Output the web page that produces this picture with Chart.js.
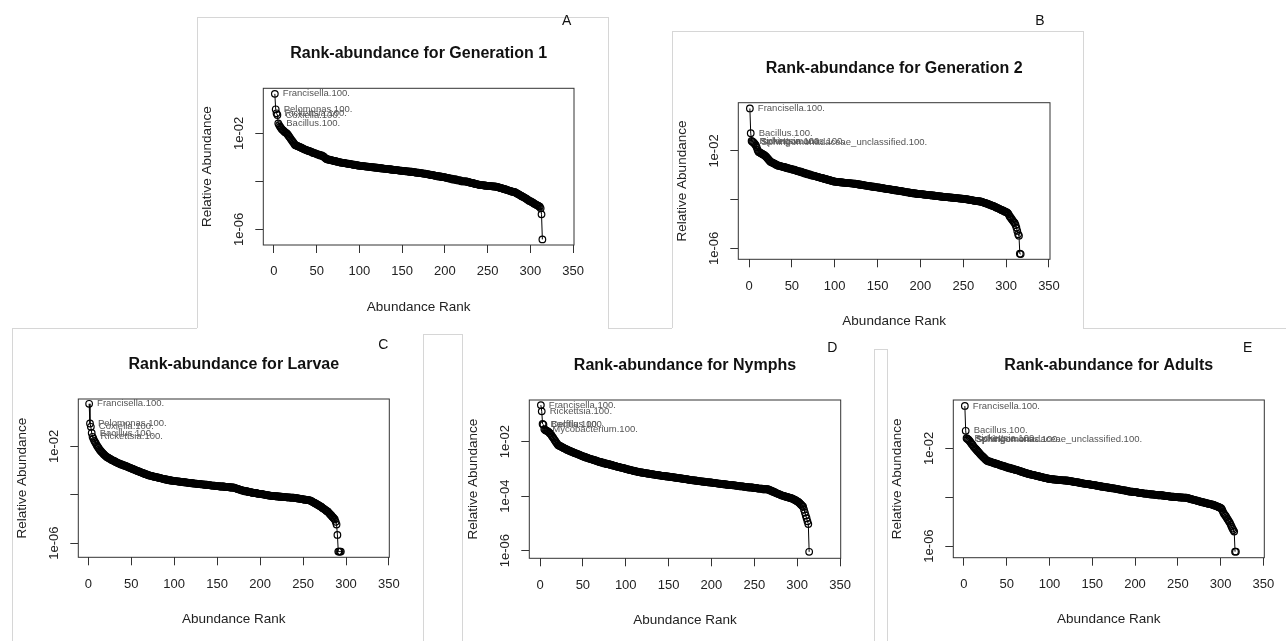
<!DOCTYPE html>
<html>
<head>
<meta charset="utf-8">
<title>Rank-abundance plots</title>
<script src="https://cdn.jsdelivr.net/npm/chart.js@4.4.1/dist/chart.umd.min.js"></script>
<style>
  html, body { margin: 0; padding: 0; background: #fff; }
  #page { position: relative; width: 1286px; height: 641px; overflow: hidden; }
  #page canvas { position: absolute; left: 0; top: 0; }
  .frame { position: absolute; background: #d6d6d6; }
</style>
</head>
<body>
<div id="page">
  <canvas id="genOne" width="1286" height="641"></canvas>
  <canvas id="genTwo" width="1286" height="641"></canvas>
  <canvas id="larvae" width="1286" height="641"></canvas>
  <canvas id="nymphs" width="1286" height="641"></canvas>
  <canvas id="adults" width="1286" height="641"></canvas>
</div>
<script>
// axis ticks shared by all five panels
const xTickValues = [0, 50, 100, 150, 200, 250, 300, 350];
const yTickValues = [1e-6, 1e-4, 1e-2];
const yTickText = ['1e-06', '1e-04', '1e-02'];

// relative abundance by rank (rank 1 first)
const gen1Abund = [
  4.4e-1, 1.0e-1, 6.8e-2, 5.8e-2, 2.6e-2, 2.2e-2, 1.9e-2, 1.7e-2, 1.5e-2, 1.4e-2,
  1.3e-2, 1.2e-2, 1.1e-2, 1.05e-2, 1.0e-2, 8.9e-3, 7.9e-3, 7.1e-3, 6.3e-3, 5.6e-3,
  5.0e-3, 4.5e-3, 4.0e-3, 3.5e-3, 3.2e-3, 3.1e-3, 3.0e-3, 2.9e-3, 2.8e-3, 2.7e-3,
  2.6e-3, 2.5e-3, 2.4e-3, 2.3e-3, 2.2e-3, 2.1e-3, 2.1e-3, 2.0e-3, 1.9e-3, 1.9e-3,
  1.8e-3, 1.8e-3, 1.7e-3, 1.7e-3, 1.6e-3, 1.5e-3, 1.5e-3, 1.5e-3, 1.4e-3, 1.4e-3,
  1.3e-3, 1.3e-3, 1.3e-3, 1.2e-3, 1.2e-3, 1.2e-3, 1.1e-3, 1.1e-3, 1.0e-3, 9.3e-4,
  8.7e-4, 8.3e-4, 8.2e-4, 8.0e-4, 7.9e-4, 7.7e-4, 7.6e-4, 7.4e-4, 7.3e-4, 7.1e-4,
  7.0e-4, 6.9e-4, 6.7e-4, 6.6e-4, 6.5e-4, 6.3e-4, 6.2e-4, 6.1e-4, 6.0e-4, 5.9e-4,
  5.9e-4, 5.8e-4, 5.7e-4, 5.6e-4, 5.5e-4, 5.5e-4, 5.4e-4, 5.3e-4, 5.2e-4, 5.2e-4,
  5.1e-4, 5.0e-4, 4.9e-4, 4.9e-4, 4.8e-4, 4.7e-4, 4.7e-4, 4.6e-4, 4.5e-4, 4.5e-4,
  4.4e-4, 4.4e-4, 4.3e-4, 4.3e-4, 4.3e-4, 4.2e-4, 4.2e-4, 4.1e-4, 4.1e-4, 4.1e-4,
  4.0e-4, 4.0e-4, 3.9e-4, 3.9e-4, 3.9e-4, 3.8e-4, 3.8e-4, 3.8e-4, 3.7e-4, 3.7e-4,
  3.7e-4, 3.6e-4, 3.6e-4, 3.5e-4, 3.5e-4, 3.5e-4, 3.4e-4, 3.4e-4, 3.4e-4, 3.3e-4,
  3.3e-4, 3.3e-4, 3.2e-4, 3.2e-4, 3.2e-4, 3.1e-4, 3.1e-4, 3.1e-4, 3.0e-4, 3.0e-4,
  3.0e-4, 2.9e-4, 2.9e-4, 2.9e-4, 2.9e-4, 2.8e-4, 2.8e-4, 2.8e-4, 2.8e-4, 2.7e-4,
  2.7e-4, 2.7e-4, 2.7e-4, 2.6e-4, 2.6e-4, 2.6e-4, 2.6e-4, 2.5e-4, 2.5e-4, 2.5e-4,
  2.5e-4, 2.4e-4, 2.4e-4, 2.4e-4, 2.4e-4, 2.3e-4, 2.3e-4, 2.3e-4, 2.3e-4, 2.2e-4,
  2.2e-4, 2.2e-4, 2.2e-4, 2.1e-4, 2.1e-4, 2.1e-4, 2.1e-4, 2.0e-4, 2.0e-4, 2.0e-4,
  1.9e-4, 1.9e-4, 1.9e-4, 1.8e-4, 1.8e-4, 1.8e-4, 1.8e-4, 1.7e-4, 1.7e-4, 1.7e-4,
  1.7e-4, 1.6e-4, 1.6e-4, 1.6e-4, 1.6e-4, 1.5e-4, 1.5e-4, 1.5e-4, 1.5e-4, 1.5e-4,
  1.4e-4, 1.4e-4, 1.4e-4, 1.4e-4, 1.3e-4, 1.3e-4, 1.3e-4, 1.3e-4, 1.2e-4, 1.2e-4,
  1.2e-4, 1.2e-4, 1.2e-4, 1.1e-4, 1.1e-4, 1.1e-4, 1.1e-4, 1.1e-4, 1.0e-4, 1.0e-4,
  1.0e-4, 1.0e-4, 1.0e-4, 9.9e-5, 9.8e-5, 9.6e-5, 9.4e-5, 9.2e-5, 9.0e-5, 8.8e-5,
  8.6e-5, 8.5e-5, 8.3e-5, 8.1e-5, 7.9e-5, 7.8e-5, 7.6e-5, 7.5e-5, 7.3e-5, 7.2e-5,
  7.1e-5, 7.0e-5, 6.9e-5, 6.9e-5, 6.8e-5, 6.7e-5, 6.7e-5, 6.6e-5, 6.5e-5, 6.5e-5,
  6.4e-5, 6.4e-5, 6.3e-5, 6.3e-5, 6.2e-5, 6.2e-5, 6.1e-5, 6.1e-5, 6.0e-5, 6.0e-5,
  5.9e-5, 5.7e-5, 5.6e-5, 5.4e-5, 5.3e-5, 5.2e-5, 5.1e-5, 4.9e-5, 4.8e-5, 4.7e-5,
  4.6e-5, 4.5e-5, 4.3e-5, 4.2e-5, 4.1e-5, 4.0e-5, 3.9e-5, 3.8e-5, 3.7e-5, 3.6e-5,
  3.6e-5, 3.5e-5, 3.3e-5, 3.2e-5, 3.0e-5, 2.9e-5, 2.8e-5, 2.6e-5, 2.5e-5, 2.4e-5,
  2.3e-5, 2.2e-5, 2.1e-5, 2.0e-5, 1.9e-5, 1.8e-5, 1.7e-5, 1.6e-5, 1.5e-5, 1.5e-5,
  1.4e-5, 1.35e-5, 1.3e-5, 1.2e-5, 1.15e-5, 1.1e-5, 1.05e-5, 1.0e-5, 9.6e-6, 9.1e-6,
  8.7e-6, 7.5e-6, 4.2e-6, 3.8e-7
];

const gen2Abund = [
  5.6e-1, 5.4e-2, 2.6e-2, 2.4e-2, 2.3e-2, 2.1e-2, 1.9e-2, 1.7e-2, 1.4e-2, 1.1e-2,
  9.3e-3, 8.9e-3, 8.5e-3, 8.1e-3, 7.7e-3, 7.4e-3, 7.0e-3, 6.7e-3, 6.3e-3, 5.8e-3,
  5.3e-3, 4.8e-3, 4.4e-3, 4.0e-3, 3.6e-3, 3.5e-3, 3.4e-3, 3.2e-3, 3.1e-3, 3.0e-3,
  2.8e-3, 2.7e-3, 2.6e-3, 2.5e-3, 2.5e-3, 2.4e-3, 2.4e-3, 2.3e-3, 2.3e-3, 2.2e-3,
  2.2e-3, 2.1e-3, 2.1e-3, 2.0e-3, 2.0e-3, 1.9e-3, 1.9e-3, 1.9e-3, 1.8e-3, 1.8e-3,
  1.7e-3, 1.7e-3, 1.7e-3, 1.6e-3, 1.6e-3, 1.5e-3, 1.5e-3, 1.5e-3, 1.4e-3, 1.4e-3,
  1.4e-3, 1.3e-3, 1.3e-3, 1.3e-3, 1.2e-3, 1.2e-3, 1.2e-3, 1.1e-3, 1.1e-3, 1.1e-3,
  1.1e-3, 1.0e-3, 1.0e-3, 1.0e-3, 9.7e-4, 9.5e-4, 9.3e-4, 9.1e-4, 8.9e-4, 8.7e-4,
  8.5e-4, 8.3e-4, 8.1e-4, 7.9e-4, 7.8e-4, 7.6e-4, 7.4e-4, 7.2e-4, 7.1e-4, 6.9e-4,
  6.8e-4, 6.6e-4, 6.5e-4, 6.3e-4, 6.2e-4, 6.0e-4, 5.9e-4, 5.8e-4, 5.6e-4, 5.5e-4,
  5.5e-4, 5.4e-4, 5.4e-4, 5.3e-4, 5.3e-4, 5.2e-4, 5.2e-4, 5.1e-4, 5.1e-4, 5.0e-4,
  5.0e-4, 4.9e-4, 4.9e-4, 4.9e-4, 4.8e-4, 4.8e-4, 4.8e-4, 4.7e-4, 4.7e-4, 4.7e-4,
  4.6e-4, 4.6e-4, 4.5e-4, 4.5e-4, 4.4e-4, 4.4e-4, 4.3e-4, 4.2e-4, 4.2e-4, 4.1e-4,
  4.1e-4, 4.0e-4, 4.0e-4, 3.9e-4, 3.9e-4, 3.8e-4, 3.8e-4, 3.7e-4, 3.7e-4, 3.6e-4,
  3.6e-4, 3.5e-4, 3.5e-4, 3.4e-4, 3.4e-4, 3.4e-4, 3.3e-4, 3.3e-4, 3.2e-4, 3.2e-4,
  3.2e-4, 3.1e-4, 3.1e-4, 3.0e-4, 3.0e-4, 3.0e-4, 2.9e-4, 2.9e-4, 2.8e-4, 2.8e-4,
  2.8e-4, 2.7e-4, 2.7e-4, 2.7e-4, 2.6e-4, 2.6e-4, 2.6e-4, 2.5e-4, 2.5e-4, 2.5e-4,
  2.4e-4, 2.4e-4, 2.4e-4, 2.3e-4, 2.3e-4, 2.3e-4, 2.3e-4, 2.2e-4, 2.2e-4, 2.2e-4,
  2.1e-4, 2.1e-4, 2.1e-4, 2.0e-4, 2.0e-4, 2.0e-4, 2.0e-4, 1.9e-4, 1.9e-4, 1.9e-4,
  1.9e-4, 1.8e-4, 1.8e-4, 1.8e-4, 1.8e-4, 1.7e-4, 1.7e-4, 1.7e-4, 1.7e-4, 1.7e-4,
  1.69e-4, 1.67e-4, 1.65e-4, 1.63e-4, 1.62e-4, 1.60e-4, 1.58e-4, 1.57e-4, 1.55e-4, 1.54e-4,
  1.53e-4, 1.52e-4, 1.50e-4, 1.49e-4, 1.48e-4, 1.46e-4, 1.45e-4, 1.43e-4, 1.42e-4, 1.40e-4,
  1.39e-4, 1.37e-4, 1.36e-4, 1.35e-4, 1.33e-4, 1.32e-4, 1.31e-4, 1.30e-4, 1.29e-4, 1.28e-4,
  1.27e-4, 1.26e-4, 1.25e-4, 1.24e-4, 1.23e-4, 1.22e-4, 1.21e-4, 1.20e-4, 1.19e-4, 1.18e-4,
  1.17e-4, 1.16e-4, 1.15e-4, 1.14e-4, 1.13e-4, 1.12e-4, 1.11e-4, 1.10e-4, 1.09e-4, 1.08e-4,
  1.08e-4, 1.07e-4, 1.05e-4, 1.04e-4, 1.02e-4, 1.01e-4, 9.9e-5, 9.8e-5, 9.6e-5, 9.5e-5,
  9.4e-5, 9.2e-5, 9.1e-5, 9.0e-5, 8.9e-5, 8.8e-5, 8.7e-5, 8.6e-5, 8.5e-5, 8.4e-5,
  8.3e-5, 8.1e-5, 7.8e-5, 7.6e-5, 7.4e-5, 7.2e-5, 7.0e-5, 6.8e-5, 6.6e-5, 6.4e-5,
  6.2e-5, 6.0e-5, 5.8e-5, 5.6e-5, 5.5e-5, 5.3e-5, 5.1e-5, 4.9e-5, 4.7e-5, 4.5e-5,
  4.4e-5, 4.2e-5, 4.0e-5, 3.9e-5, 3.7e-5, 3.6e-5, 3.5e-5, 3.3e-5, 3.2e-5, 3.1e-5,
  3.0e-5, 2.8e-5, 2.5e-5, 2.1e-5, 1.9e-5, 1.7e-5, 1.5e-5, 1.35e-5, 1.2e-5, 1.1e-5,
  9.1e-6, 7.1e-6, 5.2e-6, 3.8e-6, 3.3e-6, 6.0e-7, 5.8e-7
];

const larvaeAbund = [
  5.8e-1, 8.9e-2, 6.5e-2, 3.6e-2, 2.5e-2, 2.1e-2, 1.7e-2, 1.5e-2, 1.3e-2, 1.1e-2,
  9.8e-3, 8.7e-3, 7.6e-3, 6.8e-3, 6.2e-3, 5.7e-3, 5.2e-3, 4.8e-3, 4.4e-3, 4.1e-3,
  3.8e-3, 3.6e-3, 3.4e-3, 3.3e-3, 3.1e-3, 3.0e-3, 2.8e-3, 2.7e-3, 2.6e-3, 2.5e-3,
  2.4e-3, 2.3e-3, 2.2e-3, 2.1e-3, 2.0e-3, 2.0e-3, 1.9e-3, 1.8e-3, 1.8e-3, 1.7e-3,
  1.7e-3, 1.6e-3, 1.6e-3, 1.5e-3, 1.5e-3, 1.4e-3, 1.4e-3, 1.3e-3, 1.3e-3, 1.25e-3,
  1.2e-3, 1.17e-3, 1.1e-3, 1.1e-3, 1.05e-3, 1.0e-3, 9.8e-4, 9.5e-4, 9.2e-4, 8.9e-4,
  8.6e-4, 8.3e-4, 8.1e-4, 7.8e-4, 7.6e-4, 7.3e-4, 7.1e-4, 6.9e-4, 6.7e-4, 6.5e-4,
  6.3e-4, 6.2e-4, 6.1e-4, 6.0e-4, 5.8e-4, 5.7e-4, 5.6e-4, 5.5e-4, 5.4e-4, 5.3e-4,
  5.2e-4, 5.1e-4, 5.0e-4, 4.9e-4, 4.8e-4, 4.7e-4, 4.6e-4, 4.5e-4, 4.4e-4, 4.3e-4,
  4.3e-4, 4.2e-4, 4.1e-4, 4.0e-4, 4.0e-4, 3.9e-4, 3.9e-4, 3.8e-4, 3.8e-4, 3.8e-4,
  3.7e-4, 3.7e-4, 3.6e-4, 3.6e-4, 3.6e-4, 3.5e-4, 3.5e-4, 3.4e-4, 3.4e-4, 3.4e-4,
  3.3e-4, 3.3e-4, 3.3e-4, 3.2e-4, 3.2e-4, 3.2e-4, 3.1e-4, 3.1e-4, 3.1e-4, 3.0e-4,
  3.0e-4, 3.0e-4, 2.9e-4, 2.9e-4, 2.9e-4, 2.9e-4, 2.8e-4, 2.8e-4, 2.8e-4, 2.8e-4,
  2.7e-4, 2.7e-4, 2.7e-4, 2.7e-4, 2.6e-4, 2.6e-4, 2.6e-4, 2.6e-4, 2.5e-4, 2.5e-4,
  2.5e-4, 2.5e-4, 2.4e-4, 2.4e-4, 2.4e-4, 2.4e-4, 2.4e-4, 2.3e-4, 2.3e-4, 2.3e-4,
  2.3e-4, 2.3e-4, 2.2e-4, 2.2e-4, 2.2e-4, 2.2e-4, 2.2e-4, 2.2e-4, 2.1e-4, 2.1e-4,
  2.1e-4, 2.1e-4, 2.1e-4, 2.1e-4, 2.0e-4, 2.0e-4, 2.0e-4, 2.0e-4, 2.0e-4, 1.95e-4,
  1.9e-4, 1.85e-4, 1.8e-4, 1.75e-4, 1.7e-4, 1.65e-4, 1.6e-4, 1.6e-4, 1.5e-4, 1.5e-4,
  1.5e-4, 1.4e-4, 1.4e-4, 1.4e-4, 1.4e-4, 1.3e-4, 1.3e-4, 1.3e-4, 1.3e-4, 1.3e-4,
  1.2e-4, 1.2e-4, 1.2e-4, 1.2e-4, 1.2e-4, 1.2e-4, 1.1e-4, 1.1e-4, 1.1e-4, 1.1e-4,
  1.1e-4, 1.1e-4, 1.05e-4, 1.04e-4, 1.02e-4, 1.0e-4, 9.9e-5, 9.7e-5, 9.6e-5, 9.4e-5,
  9.3e-5, 9.2e-5, 9.1e-5, 9.0e-5, 8.9e-5, 8.8e-5, 8.8e-5, 8.7e-5, 8.7e-5, 8.6e-5,
  8.5e-5, 8.5e-5, 8.4e-5, 8.3e-5, 8.3e-5, 8.2e-5, 8.2e-5, 8.1e-5, 8.0e-5, 8.0e-5,
  7.9e-5, 7.9e-5, 7.8e-5, 7.8e-5, 7.7e-5, 7.7e-5, 7.6e-5, 7.6e-5, 7.6e-5, 7.5e-5,
  7.4e-5, 7.3e-5, 7.2e-5, 7.1e-5, 7.0e-5, 6.9e-5, 6.8e-5, 6.7e-5, 6.6e-5, 6.5e-5,
  6.4e-5, 6.3e-5, 6.3e-5, 6.2e-5, 6.1e-5, 6.0e-5, 6.0e-5, 5.9e-5, 5.6e-5, 5.4e-5,
  5.1e-5, 4.9e-5, 4.7e-5, 4.5e-5, 4.3e-5, 4.1e-5, 3.9e-5, 3.7e-5, 3.5e-5, 3.4e-5,
  3.2e-5, 3.0e-5, 2.8e-5, 2.7e-5, 2.5e-5, 2.4e-5, 2.2e-5, 2.1e-5, 2.0e-5, 1.8e-5,
  1.65e-5, 1.5e-5, 1.4e-5, 1.25e-5, 1.15e-5, 1.05e-5, 9.5e-6, 7.6e-6, 5.9e-6, 2.2e-6,
  4.5e-7, 4.5e-7, 4.5e-7, 4.5e-7
];

const nymphAbund = [
  2.2e-1, 1.3e-1, 4.5e-2, 4.2e-2, 2.9e-2, 2.7e-2, 2.6e-2, 2.5e-2, 2.4e-2, 2.3e-2,
  2.1e-2, 2.0e-2, 1.8e-2, 1.6e-2, 1.45e-2, 1.3e-2, 1.15e-2, 1.04e-2, 9.3e-3, 8.4e-3,
  7.6e-3, 7.3e-3, 7.0e-3, 6.8e-3, 6.5e-3, 6.3e-3, 6.0e-3, 5.8e-3, 5.6e-3, 5.4e-3,
  5.2e-3, 5.0e-3, 4.9e-3, 4.7e-3, 4.6e-3, 4.4e-3, 4.3e-3, 4.2e-3, 4.0e-3, 3.9e-3,
  3.8e-3, 3.7e-3, 3.6e-3, 3.5e-3, 3.4e-3, 3.3e-3, 3.2e-3, 3.1e-3, 3.0e-3, 2.9e-3,
  2.8e-3, 2.8e-3, 2.7e-3, 2.6e-3, 2.6e-3, 2.5e-3, 2.4e-3, 2.4e-3, 2.3e-3, 2.3e-3,
  2.2e-3, 2.2e-3, 2.1e-3, 2.1e-3, 2.0e-3, 2.0e-3, 1.9e-3, 1.9e-3, 1.8e-3, 1.8e-3,
  1.8e-3, 1.7e-3, 1.7e-3, 1.7e-3, 1.6e-3, 1.6e-3, 1.6e-3, 1.5e-3, 1.5e-3, 1.5e-3,
  1.5e-3, 1.4e-3, 1.4e-3, 1.4e-3, 1.35e-3, 1.3e-3, 1.3e-3, 1.3e-3, 1.25e-3, 1.2e-3,
  1.2e-3, 1.2e-3, 1.15e-3, 1.15e-3, 1.1e-3, 1.1e-3, 1.1e-3, 1.05e-3, 1.05e-3, 1.0e-3,
  9.9e-4, 9.7e-4, 9.6e-4, 9.4e-4, 9.2e-4, 9.0e-4, 8.9e-4, 8.7e-4, 8.6e-4, 8.4e-4,
  8.3e-4, 8.1e-4, 8.0e-4, 7.9e-4, 7.7e-4, 7.6e-4, 7.5e-4, 7.4e-4, 7.4e-4, 7.3e-4,
  7.2e-4, 7.1e-4, 7.0e-4, 6.9e-4, 6.8e-4, 6.8e-4, 6.7e-4, 6.6e-4, 6.5e-4, 6.5e-4,
  6.4e-4, 6.3e-4, 6.2e-4, 6.2e-4, 6.1e-4, 6.0e-4, 6.0e-4, 5.9e-4, 5.8e-4, 5.8e-4,
  5.7e-4, 5.6e-4, 5.6e-4, 5.5e-4, 5.5e-4, 5.4e-4, 5.4e-4, 5.3e-4, 5.3e-4, 5.2e-4,
  5.2e-4, 5.1e-4, 5.1e-4, 5.0e-4, 5.0e-4, 4.9e-4, 4.9e-4, 4.8e-4, 4.8e-4, 4.7e-4,
  4.7e-4, 4.6e-4, 4.6e-4, 4.5e-4, 4.5e-4, 4.4e-4, 4.4e-4, 4.3e-4, 4.3e-4, 4.2e-4,
  4.2e-4, 4.1e-4, 4.1e-4, 4.0e-4, 4.0e-4, 3.9e-4, 3.9e-4, 3.9e-4, 3.8e-4, 3.8e-4,
  3.8e-4, 3.7e-4, 3.7e-4, 3.6e-4, 3.6e-4, 3.6e-4, 3.5e-4, 3.5e-4, 3.5e-4, 3.4e-4,
  3.4e-4, 3.4e-4, 3.3e-4, 3.3e-4, 3.3e-4, 3.3e-4, 3.2e-4, 3.2e-4, 3.2e-4, 3.2e-4,
  3.1e-4, 3.1e-4, 3.1e-4, 3.0e-4, 3.0e-4, 3.0e-4, 2.9e-4, 2.9e-4, 2.9e-4, 2.9e-4,
  2.8e-4, 2.8e-4, 2.8e-4, 2.8e-4, 2.7e-4, 2.7e-4, 2.7e-4, 2.7e-4, 2.6e-4, 2.6e-4,
  2.6e-4, 2.6e-4, 2.6e-4, 2.6e-4, 2.5e-4, 2.5e-4, 2.5e-4, 2.5e-4, 2.4e-4, 2.4e-4,
  2.4e-4, 2.4e-4, 2.3e-4, 2.3e-4, 2.3e-4, 2.3e-4, 2.3e-4, 2.2e-4, 2.2e-4, 2.2e-4,
  2.2e-4, 2.2e-4, 2.1e-4, 2.1e-4, 2.1e-4, 2.1e-4, 2.1e-4, 2.1e-4, 2.0e-4, 2.0e-4,
  2.0e-4, 2.0e-4, 2.0e-4, 1.9e-4, 1.9e-4, 1.9e-4, 1.9e-4, 1.9e-4, 1.9e-4, 1.8e-4,
  1.8e-4, 1.8e-4, 1.8e-4, 1.8e-4, 1.8e-4, 1.8e-4, 1.7e-4, 1.7e-4, 1.6e-4, 1.6e-4,
  1.5e-4, 1.5e-4, 1.4e-4, 1.4e-4, 1.3e-4, 1.3e-4, 1.25e-4, 1.2e-4, 1.2e-4, 1.15e-4,
  1.1e-4, 1.07e-4, 1.05e-4, 1.03e-4, 1.0e-4, 9.8e-5, 9.6e-5, 9.4e-5, 9.2e-5, 9.0e-5,
  8.8e-5, 8.6e-5, 8.4e-5, 8.3e-5, 8.0e-5, 7.7e-5, 7.4e-5, 7.1e-5, 6.8e-5, 6.5e-5,
  6.3e-5, 5.9e-5, 5.5e-5, 5.1e-5, 4.8e-5, 4.4e-5, 4.1e-5, 3.2e-5, 2.5e-5, 1.95e-5,
  1.55e-5, 1.2e-5, 9.5e-6, 9.1e-7
];

const adultAbund = [
  5.4e-1, 5.2e-2, 2.6e-2, 2.4e-2, 2.3e-2, 2.1e-2, 1.9e-2, 1.7e-2, 1.5e-2, 1.4e-2,
  1.2e-2, 1.1e-2, 1.0e-2, 9.2e-3, 8.4e-3, 7.6e-3, 7.0e-3, 6.4e-3, 5.8e-3, 5.3e-3,
  4.9e-3, 4.5e-3, 4.2e-3, 3.9e-3, 3.6e-3, 3.3e-3, 3.1e-3, 3.0e-3, 2.9e-3, 2.9e-3,
  2.8e-3, 2.7e-3, 2.6e-3, 2.6e-3, 2.5e-3, 2.4e-3, 2.4e-3, 2.3e-3, 2.3e-3, 2.2e-3,
  2.1e-3, 2.1e-3, 2.0e-3, 2.0e-3, 1.9e-3, 1.9e-3, 1.8e-3, 1.8e-3, 1.7e-3, 1.7e-3,
  1.6e-3, 1.6e-3, 1.6e-3, 1.5e-3, 1.5e-3, 1.5e-3, 1.4e-3, 1.4e-3, 1.4e-3, 1.3e-3,
  1.3e-3, 1.3e-3, 1.25e-3, 1.2e-3, 1.2e-3, 1.15e-3, 1.1e-3, 1.1e-3, 1.05e-3, 1.03e-3,
  1.0e-3, 9.8e-4, 9.5e-4, 9.3e-4, 9.1e-4, 8.9e-4, 8.7e-4, 8.5e-4, 8.3e-4, 8.2e-4,
  8.1e-4, 8.0e-4, 7.8e-4, 7.6e-4, 7.5e-4, 7.3e-4, 7.2e-4, 7.0e-4, 6.9e-4, 6.8e-4,
  6.6e-4, 6.5e-4, 6.4e-4, 6.2e-4, 6.1e-4, 6.0e-4, 5.9e-4, 5.8e-4, 5.7e-4, 5.6e-4,
  5.5e-4, 5.5e-4, 5.4e-4, 5.4e-4, 5.3e-4, 5.3e-4, 5.2e-4, 5.2e-4, 5.2e-4, 5.1e-4,
  5.1e-4, 5.0e-4, 5.0e-4, 5.0e-4, 4.9e-4, 4.9e-4, 4.9e-4, 4.8e-4, 4.8e-4, 4.8e-4,
  4.7e-4, 4.7e-4, 4.6e-4, 4.5e-4, 4.5e-4, 4.4e-4, 4.4e-4, 4.3e-4, 4.2e-4, 4.2e-4,
  4.1e-4, 4.1e-4, 4.0e-4, 4.0e-4, 3.9e-4, 3.8e-4, 3.8e-4, 3.7e-4, 3.7e-4, 3.6e-4,
  3.6e-4, 3.5e-4, 3.5e-4, 3.4e-4, 3.4e-4, 3.4e-4, 3.3e-4, 3.3e-4, 3.2e-4, 3.2e-4,
  3.2e-4, 3.1e-4, 3.1e-4, 3.0e-4, 3.0e-4, 2.9e-4, 2.9e-4, 2.9e-4, 2.8e-4, 2.8e-4,
  2.7e-4, 2.7e-4, 2.7e-4, 2.6e-4, 2.6e-4, 2.6e-4, 2.5e-4, 2.5e-4, 2.5e-4, 2.4e-4,
  2.4e-4, 2.4e-4, 2.3e-4, 2.3e-4, 2.3e-4, 2.3e-4, 2.2e-4, 2.2e-4, 2.2e-4, 2.1e-4,
  2.1e-4, 2.1e-4, 2.0e-4, 2.0e-4, 2.0e-4, 1.9e-4, 1.9e-4, 1.9e-4, 1.9e-4, 1.8e-4,
  1.8e-4, 1.8e-4, 1.7e-4, 1.7e-4, 1.7e-4, 1.7e-4, 1.7e-4, 1.6e-4, 1.6e-4, 1.6e-4,
  1.6e-4, 1.6e-4, 1.55e-4, 1.5e-4, 1.5e-4, 1.5e-4, 1.5e-4, 1.45e-4, 1.45e-4, 1.4e-4,
  1.4e-4, 1.4e-4, 1.4e-4, 1.4e-4, 1.35e-4, 1.35e-4, 1.35e-4, 1.3e-4, 1.3e-4, 1.3e-4,
  1.3e-4, 1.3e-4, 1.25e-4, 1.25e-4, 1.25e-4, 1.25e-4, 1.2e-4, 1.2e-4, 1.2e-4, 1.2e-4,
  1.2e-4, 1.2e-4, 1.15e-4, 1.15e-4, 1.15e-4, 1.1e-4, 1.1e-4, 1.1e-4, 1.1e-4, 1.1e-4,
  1.05e-4, 1.05e-4, 1.05e-4, 1.05e-4, 1.05e-4, 1.0e-4, 1.0e-4, 1.0e-4, 1.0e-4, 1.0e-4,
  9.9e-5, 9.8e-5, 9.8e-5, 9.7e-5, 9.7e-5, 9.6e-5, 9.6e-5, 9.6e-5, 9.5e-5, 9.5e-5,
  9.3e-5, 9.1e-5, 8.9e-5, 8.7e-5, 8.5e-5, 8.3e-5, 8.1e-5, 7.9e-5, 7.8e-5, 7.6e-5,
  7.4e-5, 7.3e-5, 7.1e-5, 6.9e-5, 6.8e-5, 6.6e-5, 6.5e-5, 6.4e-5, 6.2e-5, 6.1e-5,
  6.0e-5, 5.9e-5, 5.7e-5, 5.6e-5, 5.5e-5, 5.4e-5, 5.3e-5, 5.2e-5, 5.1e-5, 5.0e-5,
  4.9e-5, 4.8e-5, 4.6e-5, 4.5e-5, 4.3e-5, 4.2e-5, 4.1e-5, 3.9e-5, 3.8e-5, 3.6e-5,
  3.5e-5, 3.0e-5, 2.5e-5, 2.1e-5, 1.9e-5, 1.7e-5, 1.5e-5, 1.3e-5, 1.15e-5, 1.0e-5,
  8.9e-6, 7.4e-6, 6.2e-6, 5.2e-6, 4.5e-6, 3.9e-6, 5.9e-7, 5.9e-7
];

// names printed next to the top-ranked taxa
const gen1Taxa = ['Francisella.100.', 'Pelomonas.100.', 'Rickettsia.100.', 'Coxiella.100.', 'Bacillus.100.'];
const gen2Taxa = ['Francisella.100.', 'Bacillus.100.', 'Rickettsia.100.', 'Sphingomonas.100.', 'Sphingomonadaceae_unclassified.100.'];
const larvaeTaxa = ['Francisella.100.', 'Pelomonas.100.', 'Coxiella.100.', 'Bacillus.100.', 'Rickettsia.100.'];
const nymphTaxa = ['Francisella.100.', 'Rickettsia.100.', 'Bacillus.100.', 'Delftia.100.', 'Mycobacterium.100.'];
const adultTaxa = ['Francisella.100.', 'Bacillus.100.', 'Rickettsia.100.', 'Sphingomonas.100.', 'Sphingomonadaceae_unclassified.100.'];

const FONT = '"Liberation Sans", Arial, Helvetica, sans-serif';

// light grey frames of the pasted panels
const frameLines = [
  [197, 17, 608, 17], [197, 17, 197, 328], [608, 17, 608, 328],
  [672, 31, 1083, 31], [672, 31, 672, 328], [1083, 31, 1083, 328],
  [12, 328, 197, 328], [608, 328, 672, 328], [1083, 328, 1286, 328],
  [12, 328, 12, 641],
  [423, 334, 462, 334], [423, 334, 423, 641], [462, 334, 462, 641],
  [874, 349, 887, 349], [874, 349, 874, 641], [887, 349, 887, 641]
];
const page = document.getElementById('page');
frameLines.forEach(([x1, y1, x2, y2]) => {
  const d = document.createElement('div');
  d.className = 'frame';
  d.style.left = x1 + 'px';
  d.style.top = y1 + 'px';
  d.style.width = Math.max(1, x2 - x1) + 'px';
  d.style.height = Math.max(1, y2 - y1) + 'px';
  page.insertBefore(d, page.firstChild);
});

// R-style decorations: box, rotated y labels, titles, taxa names
const rDecor = {
  id: 'rDecor',
  afterDraw(chart, args, o) {
    const { ctx, chartArea: a } = chart;
    const y = chart.scales.y;
    const cx = (a.left + a.right) / 2;
    const cy = (a.top + a.bottom) / 2;
    ctx.save();
    ctx.strokeStyle = '#333';
    ctx.lineWidth = 1;
    ctx.strokeRect(a.left, a.top, a.right - a.left, a.bottom - a.top);

    ctx.fillStyle = '#222';
    ctx.textAlign = 'center';
    ctx.textBaseline = 'middle';
    ctx.font = '13px ' + FONT;
    o.yLabels.forEach(i => {
      ctx.save();
      ctx.translate(a.left - 24, y.getPixelForValue(yTickValues[i]));
      ctx.rotate(-Math.PI / 2);
      ctx.fillText(yTickText[i], 0, 0);
      ctx.restore();
    });

    ctx.font = '13.5px ' + FONT;
    ctx.fillText('Abundance Rank', cx, a.bottom + 62);
    ctx.save();
    ctx.translate(a.left - 56.5, cy);
    ctx.rotate(-Math.PI / 2);
    ctx.fillText('Relative Abundance', 0, 0);
    ctx.restore();

    ctx.fillStyle = '#111';
    ctx.font = 'bold 16px ' + FONT;
    ctx.fillText(o.title, cx, a.top - 34.5);
    ctx.font = '14px ' + FONT;
    ctx.fillText(o.letter, o.letterX, o.letterY);

    const pts = chart.getDatasetMeta(0).data;
    ctx.fillStyle = '#555';
    ctx.font = '9.5px ' + FONT;
    ctx.textAlign = 'left';
    o.taxa.forEach((name, i) => {
      ctx.fillText(name, pts[i].x + 8, pts[i].y);
    });
    ctx.restore();
  }
};

function rankPlot(id, values, taxa, opt) {
  const b = opt.box;
  return new Chart(document.getElementById(id), {
    type: 'scatter',
    data: {
      datasets: [{
        data: values.map((v, i) => ({ x: i + 1, y: v })),
        showLine: true,
        borderColor: '#000',
        borderWidth: 1,
        pointRadius: 3.3,
        pointBorderWidth: 1.2,
        pointBorderColor: '#000',
        pointBackgroundColor: 'rgba(0,0,0,0)',
        clip: false
      }]
    },
    options: {
      responsive: false,
      animation: false,
      events: [],
      layout: {
        padding: { left: b.l - 8, top: b.t, right: 1286 - b.r, bottom: 641 - b.b - 40 }
      },
      plugins: {
        legend: { display: false },
        tooltip: { enabled: false },
        rDecor: {
          title: opt.title, letter: opt.letter, letterX: opt.letterX, letterY: opt.letterY,
          yLabels: opt.yLabels, taxa: taxa
        }
      },
      scales: {
        x: {
          type: 'linear',
          min: opt.xMin, max: opt.xMax,
          bounds: 'data',
          afterBuildTicks: s => { s.ticks = xTickValues.map(v => ({ value: v })); },
          afterFit: s => { s.height = 40; },
          grid: { drawOnChartArea: false, tickLength: 8, color: '#333' },
          border: { display: false },
          ticks: { color: '#222', padding: 11, maxRotation: 0, autoSkip: false, font: { family: FONT, size: 13 } }
        },
        y: {
          type: 'logarithmic',
          min: opt.yMin, max: opt.yMax,
          bounds: 'data',
          afterBuildTicks: s => { s.ticks = yTickValues.map(v => ({ value: v })); },
          afterFit: s => { s.width = 8; },
          grid: { drawOnChartArea: false, tickLength: 8, color: '#333' },
          border: { display: false },
          ticks: { display: false }
        }
      }
    },
    plugins: [rDecor]
  });
}

rankPlot('genOne', gen1Abund, gen1Taxa, {
  title: 'Rank-abundance for Generation 1', letter: 'A', letterX: 566.7, letterY: 20.7,
  box: { l: 263.3, t: 88.3, r: 574, b: 245 },
  xMin: -12.5, xMax: 351, yMin: 2.22e-7, yMax: 0.75, yLabels: [0, 2]
});
rankPlot('genTwo', gen2Abund, gen2Taxa, {
  title: 'Rank-abundance for Generation 2', letter: 'B', letterX: 1040, letterY: 20.7,
  box: { l: 738.3, t: 102.7, r: 1050, b: 259.3 },
  xMin: -12.5, xMax: 351.2, yMin: 3.54e-7, yMax: 0.966, yLabels: [0, 2]
});
rankPlot('larvae', larvaeAbund, larvaeTaxa, {
  title: 'Rank-abundance for Larvae', letter: 'C', letterX: 383.3, letterY: 345,
  box: { l: 78.3, t: 399, r: 389.3, b: 557.3 },
  xMin: -11.6, xMax: 350.4, yMin: 2.6e-7, yMax: 0.917, yLabels: [0, 2]
});
rankPlot('nymphs', nymphAbund, nymphTaxa, {
  title: 'Rank-abundance for Nymphs', letter: 'D', letterX: 832.3, letterY: 348.3,
  box: { l: 529.3, t: 400, r: 840.7, b: 558.3 },
  xMin: -12.5, xMax: 350.8, yMin: 5.26e-7, yMax: 0.339, yLabels: [0, 1, 2]
});
rankPlot('adults', adultAbund, adultTaxa, {
  title: 'Rank-abundance for Adults', letter: 'E', letterX: 1247.7, letterY: 348.3,
  box: { l: 953.3, t: 400, r: 1264.3, b: 557.7 },
  xMin: -12.5, xMax: 351.2, yMin: 3.33e-7, yMax: 0.948, yLabels: [0, 2]
});
</script>
</body>
</html>
